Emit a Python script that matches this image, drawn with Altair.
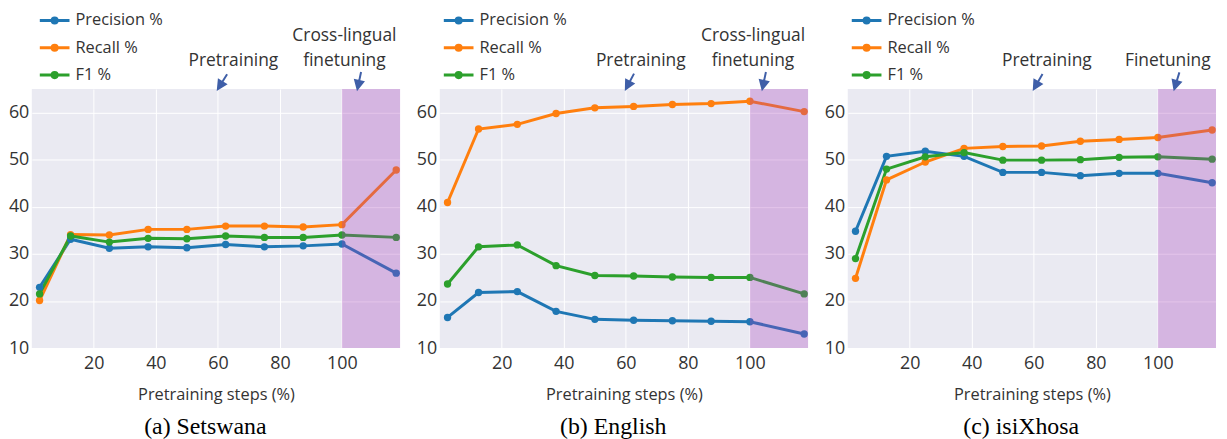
import altair as alt
import pandas as pd

# ---------------- data ----------------
steps = [2.5, 12.5, 25, 37.5, 50, 62.5, 75, 87.5, 100, 117.5]
metrics = ["Precision %", "Recall %", "F1 %"]
metric_colors = ["#1f77b4", "#ff7f0e", "#2ca02c"]

setswana_precision = [22.9, 33.1, 31.2, 31.5, 31.3, 32.0, 31.5, 31.7, 32.1, 25.9]
setswana_recall = [20.1, 34.1, 34.0, 35.2, 35.2, 35.9, 35.9, 35.7, 36.2, 47.8]
setswana_f1 = [21.5, 33.8, 32.5, 33.3, 33.2, 33.8, 33.5, 33.5, 34.0, 33.5]

english_precision = [16.5, 21.8, 22.0, 17.8, 16.1, 15.9, 15.8, 15.7, 15.6, 13.0]
english_recall = [40.9, 56.5, 57.5, 59.8, 61.0, 61.3, 61.7, 61.9, 62.4, 60.2]
english_f1 = [23.6, 31.5, 31.9, 27.5, 25.4, 25.3, 25.1, 25.0, 25.0, 21.5]

xhosa_precision = [34.8, 50.7, 51.8, 50.7, 47.3, 47.3, 46.6, 47.1, 47.1, 45.1]
xhosa_recall = [24.8, 45.7, 49.5, 52.4, 52.8, 52.9, 53.9, 54.3, 54.7, 56.3]
xhosa_f1 = [29.0, 48.0, 50.6, 51.5, 49.9, 49.9, 50.0, 50.5, 50.6, 50.1]

captions = ["(a) Setswana", "(b) English", "(c) isiXhosa"]
x_ticks = [20, 40, 60, 80, 100]
y_ticks = [10, 20, 30, 40, 50, 60]
x_domain = [0, 118.75]
y_domain = [10, 65]
finetune_start = 100

# annotations
pretrain_label = ["Pretraining"]
finetune_labels = [["Cross-lingual", "finetuning"], ["Cross-lingual", "finetuning"], ["Finetuning"]]
pretrain_text_x = [65.0, 64.8, 64.2]
pretrain_tip_x = [60.0, 60.0, 60.0]
finetune_text_x = [100.8, 101.0, 103.2]
finetune_tip_x = [105.0, 104.0, 105.3]
pretrain_angle = [32, 28, 30]
finetune_angle = [12, 12, 17]
legend_x = [13, 9, 9]

FONT = "Open Sans"
TEXT_COLOR = "#333333"
ARROW_COLOR = "#3f5fa8"
BAND_COLOR = "#a43ab8"

ARROW_SHAPE = "M0,0L-0.45,-0.9L0.45,-0.9Z M0,-0.8L0,-1.9"
LEGEND_SHAPE = ("M-1.76,0L1.76,0 M-0.3,0a0.3,0.3 0 1,0 0.6,0"
                "a0.3,0.3 0 1,0 -0.6,0")

XS = alt.Scale(domain=x_domain, nice=False, zero=False)
YS = alt.Scale(domain=y_domain, nice=False, zero=False)
AX = alt.Axis(values=x_ticks, title="Pretraining steps (%)")
AY = alt.Axis(values=y_ticks, title=None)


def xy():
    return dict(
        x=alt.X("step:Q", scale=XS, axis=AX),
        y=alt.Y("value:Q", scale=YS, axis=AY),
    )


def panel(i, prec, rec, f1):
    n = len(steps)
    df = pd.DataFrame({
        "step": steps * 3,
        "value": prec + rec + f1,
        "metric": [metrics[0]] * n + [metrics[1]] * n + [metrics[2]] * n,
    })

    lines = alt.Chart(df).mark_line(
        strokeWidth=3,
        point=alt.OverlayMarkDef(filled=True, size=55, opacity=1),
    ).encode(
        **xy(),
        color=alt.Color(
            "metric:N",
            scale=alt.Scale(domain=metrics, range=metric_colors),
            sort=metrics,
            legend=alt.Legend(
                title=None, orient="none", legendX=legend_x[i], legendY=-79,
                symbolType=LEGEND_SHAPE, symbolSize=289, symbolStrokeWidth=3,
                labelFont=FONT, labelFontSize=16.5, labelColor=TEXT_COLOR,
                labelOffset=11, rowPadding=8.5, padding=0,
            ),
        ),
    )

    band = alt.Chart(pd.DataFrame({
        "step": [finetune_start], "step2": [x_domain[1]],
        "value": [y_domain[0]], "value2": [y_domain[1]],
    })).mark_rect(color=BAND_COLOR, opacity=0.3).encode(
        **xy(), x2="step2:Q", y2="value2:Q",
    )

    txt_rows = []
    for k, line in enumerate(reversed(finetune_labels[i])):
        txt_rows.append({"step": finetune_text_x[i], "value": 69.85 + 5.35 * k, "text": line})
    txt_rows.append({"step": pretrain_text_x[i], "value": 69.85, "text": pretrain_label[0]})
    texts = alt.Chart(pd.DataFrame(txt_rows)).mark_text(
        font=FONT, fontSize=17.5, color=TEXT_COLOR, align="center",
        baseline="alphabetic",
    ).encode(**xy(), text="text:N")

    arrows = alt.Chart(pd.DataFrame({
        "step": [pretrain_tip_x[i], finetune_tip_x[i]],
        "value": [y_domain[1], y_domain[1]],
        "angle": [pretrain_angle[i], finetune_angle[i]],
    })).mark_point(
        shape=ARROW_SHAPE, filled=True, fill=ARROW_COLOR, stroke=ARROW_COLOR,
        strokeWidth=2, size=340, opacity=1,
    ).encode(**xy(), angle=alt.Angle("angle:Q", scale=None))

    return alt.layer(lines, band, texts, arrows).properties(
        width=371, height=261,
        title=alt.TitleParams(
            text=captions[i], orient="bottom", font="Liberation Serif",
            fontSize=24, fontWeight="normal", color="black", offset=12,
            frame="bounds", anchor="middle",
        ),
    )


chart = alt.hconcat(
    panel(0, setswana_precision, setswana_recall, setswana_f1),
    panel(1, english_precision, english_recall, english_f1),
    panel(2, xhosa_precision, xhosa_recall, xhosa_f1),
    spacing=13,
).resolve_scale(color="independent").properties(
    padding={"left": 0, "top": 1, "right": 0, "bottom": 0},
).configure_view(
    fill="#EAEAF2", stroke=None,
).configure_axis(
    grid=True, gridColor="white", gridWidth=1, domain=False, ticks=False,
    labelFont=FONT, labelFontSize=18, labelColor=TEXT_COLOR,
    titleFont=FONT, titleFontSize=16.5, titleFontWeight="normal",
    titleColor=TEXT_COLOR,
).configure_axisX(
    labelPadding=7, titlePadding=14,
).configure_axisY(
    labelPadding=3,
)

chart.save("out.html", embed_options={"renderer": "svg", "actions": False})
